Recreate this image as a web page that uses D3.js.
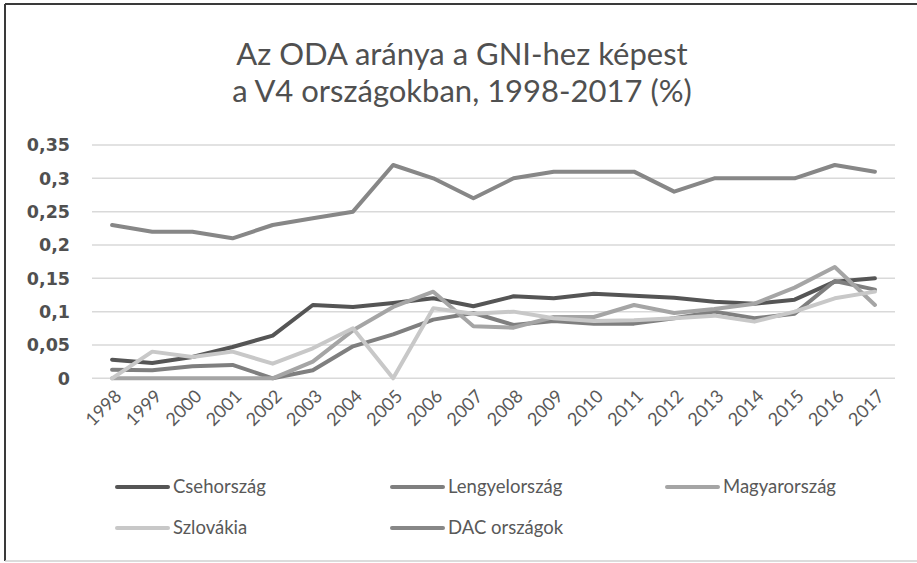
<!DOCTYPE html>
<head>
  <meta charset="utf-8">
  <script src="https://d3js.org/d3.v7.min.js"></script>
  <style>
    body { margin: 0; background: #fff; }
    text { font-family: Lato, "Open Sans", sans-serif; fill: #595959; }
  </style>
</head>
<body>
  <script>
    var width = 917, height = 563;

    var years = ["1998", "1999", "2000", "2001", "2002", "2003", "2004", "2005", "2006", "2007",
      "2008", "2009", "2010", "2011", "2012", "2013", "2014", "2015", "2016", "2017"];
    var seriesNames = ["Csehország", "Lengyelország", "Magyarország", "Szlovákia", "DAC országok"];
    var cseh = [0.028, 0.023, 0.032, 0.047, 0.064, 0.110, 0.107, 0.113, 0.120, 0.108,
      0.123, 0.120, 0.127, 0.124, 0.121, 0.115, 0.112, 0.118, 0.145, 0.150];
    var lengyel = [0.013, 0.012, 0.018, 0.020, 0.000, 0.012, 0.048, 0.066, 0.088, 0.098,
      0.080, 0.086, 0.082, 0.082, 0.090, 0.100, 0.090, 0.097, 0.146, 0.133];
    var magyar = [0, 0, 0, 0, 0, 0.025, 0.072, 0.107, 0.130, 0.078,
      0.076, 0.092, 0.092, 0.110, 0.098, 0.104, 0.112, 0.136, 0.167, 0.110];
    var szlovakia = [0, 0.040, 0.032, 0.040, 0.022, 0.045, 0.075, 0, 0.105, 0.097,
      0.100, 0.090, 0.086, 0.087, 0.090, 0.094, 0.085, 0.100, 0.120, 0.130];
    var dac = [0.23, 0.22, 0.22, 0.21, 0.23, 0.24, 0.25, 0.32, 0.30, 0.27,
      0.30, 0.31, 0.31, 0.31, 0.28, 0.30, 0.30, 0.30, 0.32, 0.31];
    var yTicks = [0, 0.05, 0.1, 0.15, 0.2, 0.25, 0.3, 0.35];

    var colors = ["#555555", "#7f7f7f", "#a5a5a5", "#c8c8c8", "#878787"];
    var allSeries = [cseh, lengyel, magyar, szlovakia, dac];

    var svg = d3.select("body").append("svg")
      .attr("width", width)
      .attr("height", height);

    // frame
    svg.append("line").attr("x1", 5).attr("y1", 4).attr("x2", width).attr("y2", 4)
      .attr("stroke", "#3a3a3a").attr("stroke-width", 2);
    svg.append("line").attr("x1", 5).attr("y1", 4).attr("x2", 5).attr("y2", 561)
      .attr("stroke", "#3a3a3a").attr("stroke-width", 2);
    svg.append("line").attr("x1", 5).attr("y1", 561).attr("x2", width).attr("y2", 561)
      .attr("stroke", "#d0d0d0").attr("stroke-width", 1.5);

    // title
    var title = svg.append("text")
      .attr("text-anchor", "middle")
      .style("font-size", "31px")
      .style("fill", "#505050");
    title.append("tspan").attr("x", 462).attr("y", 65).text("Az ODA aránya a GNI-hez képest");
    title.append("tspan").attr("x", 462).attr("y", 102).text("a V4 országokban, 1998-2017 (%)");

    var x = d3.scaleBand().domain(years).range([92, 895]);
    var y = d3.scaleLinear().domain([0, 0.35]).range([378.3, 145]);

    // gridlines
    svg.append("g")
      .selectAll("line")
      .data(yTicks)
      .enter().append("line")
      .attr("x1", 92).attr("x2", 895)
      .attr("y1", d => y(d)).attr("y2", d => y(d))
      .attr("stroke", "#d9d9d9")
      .attr("stroke-width", 1.5);

    // y labels
    var fmt = d => d === 0 ? "0" : String(d).replace(".", ",");
    svg.append("g")
      .selectAll("text")
      .data(yTicks)
      .enter().append("text")
      .attr("x", 70)
      .attr("y", d => y(d))
      .attr("dy", "0.36em")
      .attr("text-anchor", "end")
      .style("font-family", "'DejaVu Sans', sans-serif")
      .style("font-size", "17.5px")
      .style("font-weight", "bold")
      .style("fill", "#505050")
      .text(fmt);

    // x labels
    svg.append("g")
      .selectAll("text")
      .data(years)
      .enter().append("text")
      .attr("transform", d => "translate(" + (x(d) + x.bandwidth() / 2 + 6) + ",393) rotate(-45)")
      .attr("text-anchor", "end")
      .attr("dy", "0.35em")
      .style("font-size", "18px")
      .text(d => d);

    // lines
    var line = d3.line()
      .x((d, i) => x(years[i]) + x.bandwidth() / 2)
      .y(d => y(d));

    svg.append("g")
      .selectAll("path")
      .data(allSeries)
      .enter().append("path")
      .attr("d", line)
      .attr("fill", "none")
      .attr("stroke", (d, i) => colors[i])
      .attr("stroke-width", 4)
      .attr("stroke-linejoin", "round")
      .attr("stroke-linecap", "round");

    // legend
    var legendPos = [[117, 487], [392, 487], [667, 487], [117, 528], [392, 528]];
    var legend = svg.append("g")
      .selectAll("g")
      .data(seriesNames)
      .enter().append("g")
      .attr("transform", (d, i) => "translate(" + legendPos[i][0] + "," + legendPos[i][1] + ")");
    legend.append("line")
      .attr("x1", 0).attr("x2", 51)
      .attr("stroke", (d, i) => colors[i])
      .attr("stroke-width", 4)
      .attr("stroke-linecap", "round");
    legend.append("text")
      .attr("x", 56)
      .attr("dy", "0.35em")
      .style("font-size", "18.5px")
      .text(d => d);
  </script>
</body>
